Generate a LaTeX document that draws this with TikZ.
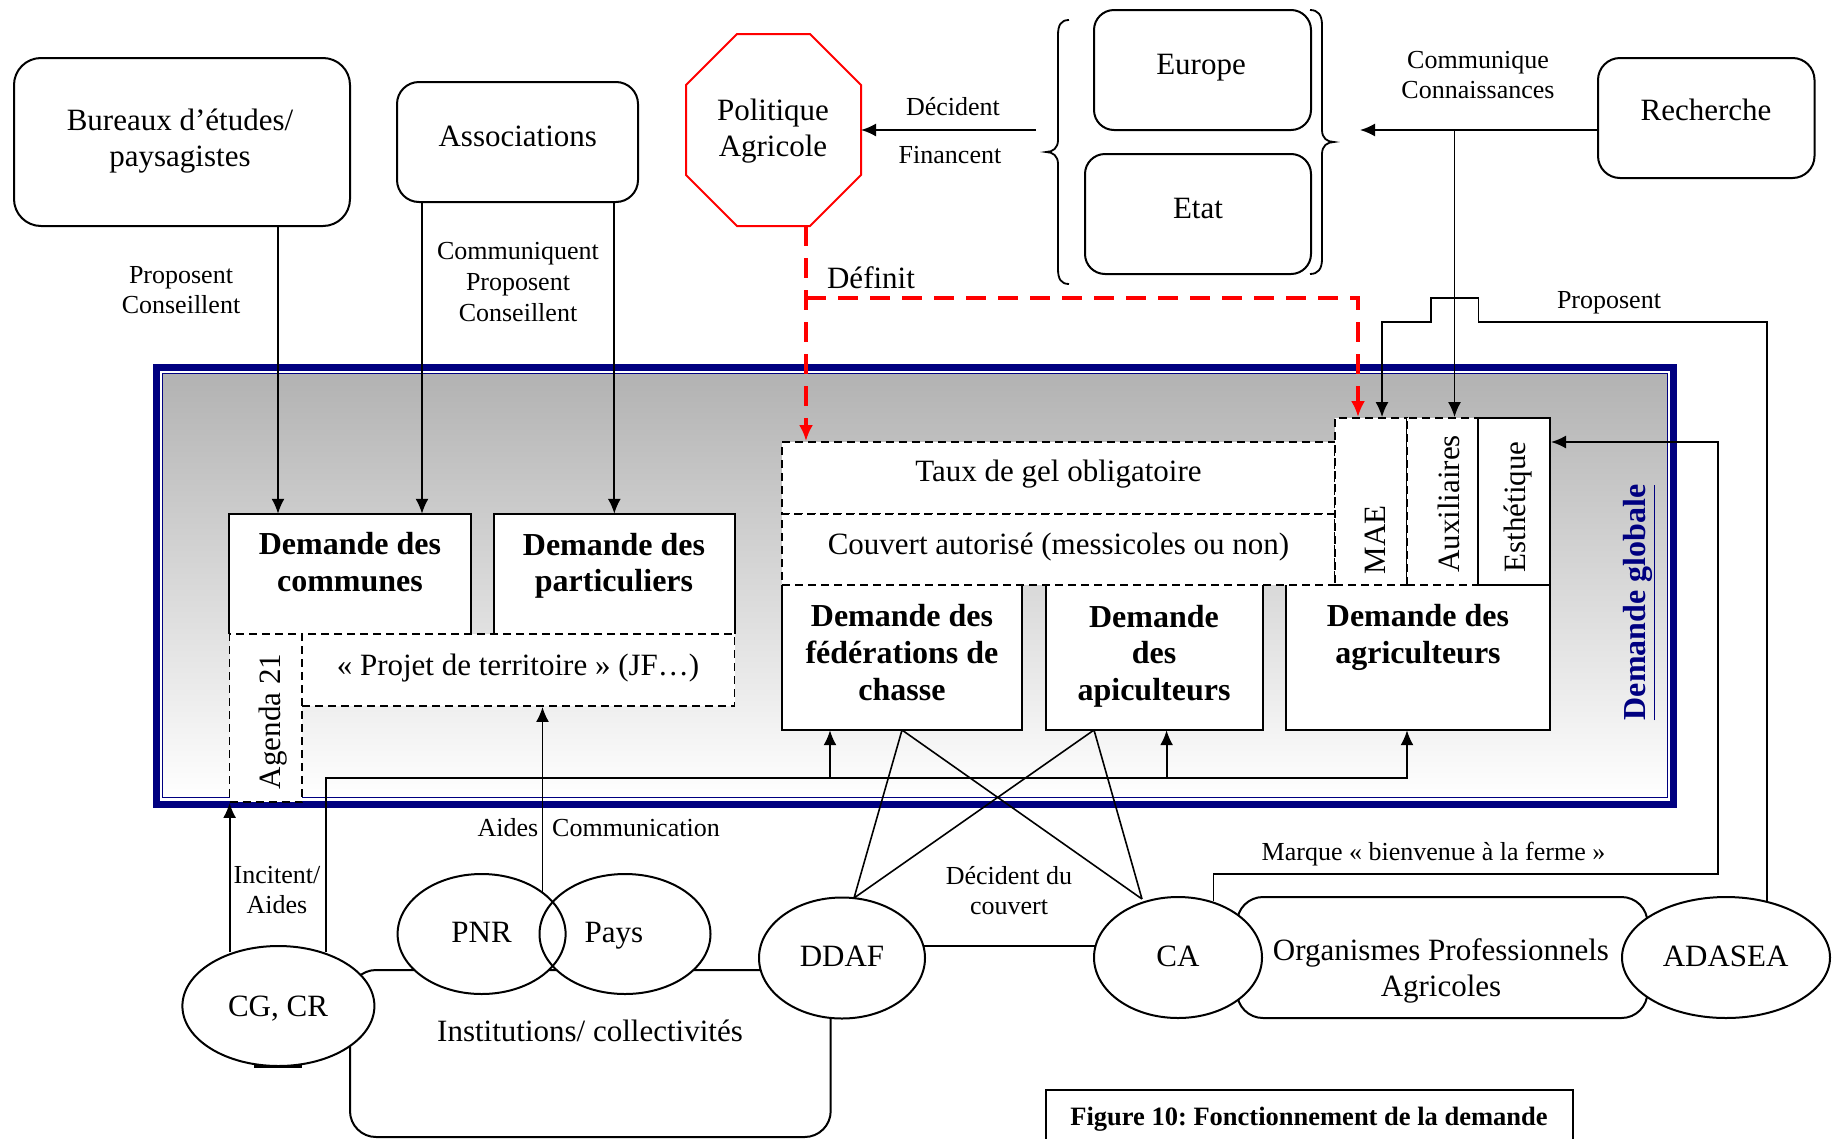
\documentclass[tikz,border=0pt]{standalone}
\usepackage{fontspec}
\setmainfont{Liberation Serif}
\usetikzlibrary{arrows.meta,shapes.geometric,fit}
\definecolor{navyb}{RGB}{0,0,128}
\newcommand\fmain{\fontsize{31}{36.7}\selectfont}
\newcommand\fsmall{\fontsize{26}{30.7}\selectfont}
\newcommand\fbold{\fontsize{32}{36.7}\selectfont\bfseries}
\newcommand\fcap{\fontsize{26.5}{31}\selectfont\bfseries}
\frenchspacing
\begin{document}
\begin{tikzpicture}[x=1pt,y=-1pt,
  every node/.style={inner sep=0pt},
  tm/.style={font=\fmain,align=center},
  ts/.style={font=\fsmall,align=center},
  tb/.style={font=\fbold,align=center},
  tcap/.style={font=\fcap},
  conn/.style={line width=1.8pt},
  arr/.style={line width=1.8pt,-{Latex[length=15pt,width=13pt]}},
  rdash/.style={draw=red,color=red,line width=4pt,dash pattern=on 20pt off 12pt,-{Latex[length=16pt,width=14pt]}},
  rbox/.style={draw,line width=2pt,rounded corners=#1,fill=white},
  rbox/.default=22pt,
  wbox/.style={fill=white},
  sbox/.style={draw,line width=2pt,fill=white},
  dbox/.style={draw,line width=1.8pt,dash pattern=on 8pt off 5pt,fill=white},
  ell/.style={ellipse,draw,line width=2pt,fill=white}
]
\useasboundingbox (0,0) rectangle (1836,1138);
\fill[white] (0,0) rectangle (1836,1138);

% ---------- Demande globale frame ----------
\shade[top color=black!30,bottom color=white] (163,374) rectangle (1667,797);
\draw[navyb,line width=7pt] (156.5,367.5) rectangle (1673.2,804.2);
\draw[navyb,line width=1.5pt] (162.5,373.5) rectangle (1667.5,797.5);
\node[tb,text=navyb,anchor=base,rotate=90] (tglob) at (1645.5,602.5) {\underline{Demande globale}};

% ---------- top boxes ----------
\node[rbox=27pt,fit={(14,58) (350,226)}] (bur) {};
\node[tm] (tbur) at (180,141) {Bureaux d’études/\\paysagistes};
\node[rbox,fit={(397,82) (638,202)}] (ass) {};
\node[tm,anchor=base] (tass) at (517.8,146) {Associations};

\draw[red,line width=2pt] (737,34) -- (810,34) -- (861,85) -- (861,175) -- (810,226) -- (737,226) -- (686,175) -- (686,85) -- cycle;
\node[tm] (tpol) at (773,131) {Politique\\Agricole};
\coordinate (polE) at (861,130);
\coordinate (polS) at (806,226);

\node[rbox=20pt,fit={(1094,10) (1311,130)}] (eur) {};
\node[tm,anchor=base] (teur) at (1201,74) {Europe};
\node[rbox=20pt,fit={(1085,154) (1311,274)}] (eta) {};
\node[tm,anchor=base] (teta) at (1198,218) {Etat};
% braces
\draw[line width=1.8pt] (1069,20) .. controls (1061,20) and (1058,25) .. (1058,35) -- (1058,140)
  .. controls (1058,148) and (1053,152) .. (1046,152) .. controls (1053,152) and (1058,156) .. (1058,164)
  -- (1058,269) .. controls (1058,279) and (1061,284) .. (1069,284);
\draw[line width=1.8pt] (1310,10) .. controls (1318,10) and (1322,15) .. (1322,25) -- (1322,130)
  .. controls (1322,138) and (1327,142) .. (1334,142) .. controls (1327,142) and (1322,146) .. (1322,154)
  -- (1322,259) .. controls (1322,269) and (1318,274) .. (1310,274);
\coordinate (bl) at (1036,130);
\coordinate (brR) at (1360,130);

\node[rbox,fit={(1598,58) (1814.5,178)}] (rech) {};
\node[tm,anchor=base] (trec) at (1706,120.7) {Recherche};
\coordinate (rechW) at (1598,130);
\coordinate (junc) at (1454.5,130);

% ---------- boxes inside frame ----------
\node[wbox,fit={(229.5,514) (470.8,634)}] (com) {};
\draw[line width=2pt] (com.south west) -- (com.north west) -- (com.north east) -- (com.south east);
\node[wbox,fit={(494,514) (734.5,634)}] (part) {};
\draw[line width=2pt] (part.south west) -- (part.north west) -- (part.north east) -- (part.south east);
\node[dbox,fit={(229.5,634) (302,802)}] (agenda) {};
\node[dbox,fit={(302,634) (734.5,706)}] (projet) {};
\node[tb] (tcom) at (350,562.3) {Demande des\\communes};
\node[tb] (tpart) at (614,565.7) {Demande des\\particuliers};
\node[tm,anchor=base] (tproj) at (518,675) {«~Projet de territoire~» (JF…)};
\node[tm,anchor=base,rotate=90] (tag) at (280,721.5) {Agenda 21};

\node[wbox,fit={(782,585) (1022,730)}] (fed) {};
\draw[line width=2pt] (fed.north west) -- (fed.south west) -- (fed.south east) -- (fed.north east);
\node[wbox,fit={(1046,585) (1262.5,730)}] (api) {};
\draw[line width=2pt] (api.north west) -- (api.south west) -- (api.south east) -- (api.north east);
\node[wbox,fit={(1286,585) (1550,730)}] (agri) {};
\draw[line width=2pt] (agri.north west) -- (agri.south west) -- (agri.south east) -- (agri.north east);
\node[dbox,fit={(782,442) (1335,514)}] (taux) {};
\node[dbox,fit={(782,514) (1335,585)}] (couv) {};
\node[dbox,fit={(1335,418) (1407,585)}] (mae) {};
\node[dbox,fit={(1407,418) (1478,585)}] (aux) {};
\node[sbox,fit={(1478,418) (1550,585)}] (esth) {};
\node[tm,anchor=base] (ttaux) at (1058.5,481.7) {Taux de gel obligatoire};
\node[tm,anchor=base] (tcouv) at (1058.5,554) {Couvert autorisé (messicoles ou non)};
\node[tm,anchor=base,rotate=90] (tmae) at (1385,539.7) {MAE};
\node[tm,anchor=base,rotate=90] (taux2) at (1459,504) {Auxiliaires};
\node[tm,anchor=base,rotate=90] (test) at (1525,506.7) {Esthétique};
\node[tb] (tfed) at (902,652.6) {Demande des\\fédérations de\\chasse};
\node[tb] (tapi) at (1154,656) {Demande\\des\\apiculteurs};
\node[tb] (tagr) at (1418,637.7) {Demande des\\agriculteurs};

% ---------- top connectors ----------
\draw[arr] (bur.south -| 278,0) -- (com.north -| 278,0);
\draw[arr] (ass.south -| 422,0) -- (com.north -| 422,0);
\draw[arr] (ass.south -| 614.3,0) -- (part.north -| 614.3,0);
\node[ts] (lpc1) at (181,290) {Proposent\\Conseillent};
\node[ts] (lpc2) at (518,282) {Communiquent\\Proposent\\Conseillent};
\draw[arr] (bl) -- (polE);
\node[ts,anchor=base] (ldec) at (953,115) {Décident};
\node[ts,anchor=base] (lfin) at (950,163.3) {Financent};
\draw[arr] (rechW) -- (brR);
\node[ts] (lcomk) at (1478,75) {Communique\\Connaissances};
\draw[arr] (junc) -- (aux.north -| junc);
\draw[rdash] (polS) -- (taux.north -| polS);
\draw[rdash] (806,298) -- (1358,298) -- (mae.north -| 1358,0);
\node[tm,anchor=base] (ldef) at (871,288.3) {Définit};

% ---------- bottom shapes ----------
\node[rbox=26pt,fit={(350,970) (830.7,1137)}] (inst) {};
\node[rbox=26pt,fit={(1237,897) (1647.5,1018)}] (opa) {};
\node[ell,minimum width=192pt,minimum height=120pt] (cg) at (278.4,1006) {};
\node[ell,draw=none,minimum width=168pt,minimum height=120pt] (pnrf) at (481.6,934) {};
\node[ell,draw=none,minimum width=171pt,minimum height=120pt] (paysf) at (625,934) {};
\node[ellipse,draw,line width=2pt,minimum width=168pt,minimum height=120pt] (pnr) at (481.6,934) {};
\node[ellipse,draw,line width=2pt,minimum width=171pt,minimum height=120pt] (pays) at (625,934) {};
\node[ell,minimum width=166pt,minimum height=121pt] (ddaf) at (842,958) {};
\node[ell,minimum width=168pt,minimum height=121pt] (ca) at (1178,957.5) {};
\node[ell,minimum width=208pt,minimum height=121pt] (ada) at (1726,957.5) {};
\draw[line width=3pt] (254,1066) -- (302,1066);

\node[tm,anchor=base] (tpnr) at (481.6,942.7) {PNR};
\node[tm,anchor=base] (tpays) at (614,942.7) {Pays};
\node[tm,anchor=base] (tcg) at (278,1016.7) {CG, CR};
\node[tm,anchor=base] (tddaf) at (842,966.7) {DDAF};
\node[tm,anchor=base] (tca) at (1178,966.7) {CA};
\node[tm,anchor=base] (tada) at (1725.6,966.7) {ADASEA};
\node[tm] (topa) at (1441,971) {Organismes Professionnels\\Agricoles};
\node[tm,anchor=base] (tinst) at (590,1041.7) {Institutions/ collectivités};

% caption
\draw[line width=1.8pt] (1046,1140) -- (1046,1090) -- (1573,1090) -- (1573,1140);
\node[tcap,anchor=base] (tfig) at (1309,1125) {Figure 10: Fonctionnement de la demande};

% ---------- bottom connectors ----------
\coordinate (cgA) at (229.6,952);
\coordinate (cgB) at (326,952);
\coordinate (pp) at (542.5,893);
\coordinate (fedS) at (902,730);
\coordinate (apiS) at (1094,730);
\coordinate (ddafT) at (854,898);
\coordinate (caT) at (1142,899);
\coordinate (ddafE) at (923,946);
\coordinate (caW) at (1096,946);
\coordinate (caNE) at (1213.5,901);
\coordinate (adaN) at (1767,901);

\draw[arr] (cgA) -- (agenda.south -| cgA);
\node[ts] (linc) at (277,890) {Incitent/\\Aides};
\draw[arr] (cgB) -- (326,778) -- (1407,778) -- (agri.south -| 1407,0);
\draw[arr] (830,778) -- (fed.south -| 830,0);
\draw[arr] (1166.6,778) -- (api.south -| 1166.6,0);
\draw[arr] (pp) -- (projet.south -| pp);
\node[ts,anchor=base east] (laid) at (538.5,836.7) {Aides};
\node[ts,anchor=base west] (lcomm) at (552,836.7) {Communication};
\draw[line width=1.6pt] (fedS) -- (ddafT) (fedS) -- (caT) (apiS) -- (ddafT) (apiS) -- (caT);
\node[ts] (ldecc) at (1009,890.7) {Décident du\\couvert};
\draw[conn] (ddafE) -- (caW);
\draw[arr] (caNE) -- (1213.5,874) -- (1718,874) -- (1718,442) -- (esth.east |- 0,442);
\node[ts,anchor=base] (lmar) at (1433.5,860) {Marque «~bienvenue à la ferme~»};
\draw[arr] (adaN) -- (1767,322) -- (1478.5,322) -- (1478.5,298) -- (1430.6,298) -- (1430.6,322) -- (1382,322) -- (mae.north -| 1382,0);
\node[ts,anchor=base] (lprop) at (1609,308.3) {Proposent};
\end{tikzpicture}
\end{document}
